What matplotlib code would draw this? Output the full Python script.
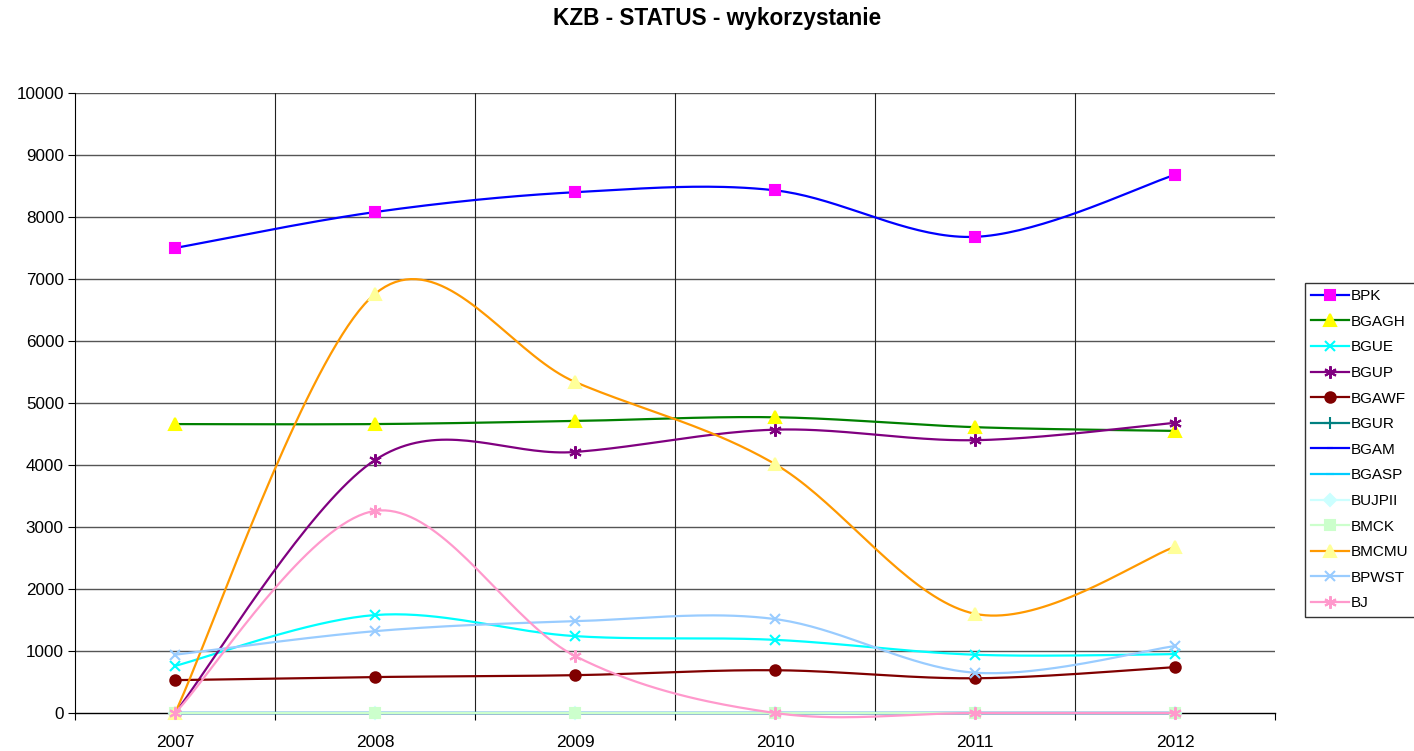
import numpy as np
import matplotlib
matplotlib.use("Agg")
import matplotlib.pyplot as plt
from matplotlib.ticker import FixedLocator, NullFormatter

plt.rcParams['font.family'] = ['Liberation Sans', 'DejaVu Sans']

years = ["2007", "2008", "2009", "2010", "2011", "2012"]
series_names = ["BPK", "BGAGH", "BGUE", "BGUP", "BGAWF", "BGUR", "BGAM",
                "BGASP", "BUJPII", "BMCK", "BMCMU", "BPWST", "BJ"]
BPK = [7500, 8080, 8400, 8430, 7680, 8680]
BGAGH = [4660, 4660, 4710, 4770, 4610, 4550]
BGUE = [760, 1580, 1240, 1180, 940, 950]
BGUP = [0, 4080, 4210, 4570, 4400, 4680]
BGAWF = [530, 580, 610, 690, 560, 740]
BGUR = [0, 0, 0, 0, 0, 0]
BGAM = [0, 0, 0, 0, 0, 0]
BGASP = [0, 0, 0, 0, 0, 0]
BUJPII = [0, 0, 0, 0, 0, 0]
BMCK = [0, 0, 0, 0, 0, 0]
BMCMU = [0, 6760, 5340, 4015, 1600, 2680]
BPWST = [940, 1320, 1480, 1515, 650, 1080]
BJ = [0, 3260, 920, 0, 0, 0]

values = [BPK, BGAGH, BGUE, BGUP, BGAWF, BGUR, BGAM, BGASP, BUJPII, BMCK, BMCMU, BPWST, BJ]

# (line color, marker, marker face, marker edge, marker size)
styles = [
    ("#0000FF", "s", "#FF00FF", "#FF00FF", 7.5),
    ("#008000", "^", "#FFFF00", "#FFFF00", 8),
    ("#00FFFF", "x", "#00FFFF", "#00FFFF", 7.5),
    ("#800080", (6, 2, 0), "#800080", "#800080", 9),
    ("#800000", "o", "#800000", "#800000", 7.5),
    ("#008080", "+", "#008080", "#008080", 9),
    ("#0000FF", "_", "#0000FF", "#0000FF", 5),
    ("#00CCFF", "_", "#00CCFF", "#00CCFF", 6),
    ("#CCFFFF", "D", "#CCFFFF", "#CCFFFF", 6.5),
    ("#CCFFCC", "s", "#CCFFCC", "#CCFFCC", 7.5),
    ("#FF9900", "^", "#FFFF99", "#FFFF99", 8),
    ("#99CCFF", "x", "#99CCFF", "#99CCFF", 7.5),
    ("#FF99CC", (6, 2, 0), "#FF99CC", "#FF99CC", 9),
]


def smooth(x, y, n=40):
    # Excel-style smoothed line (Catmull-Rom Bezier)
    x = np.asarray(x, float)
    y = np.asarray(y, float)
    P = np.column_stack([x, y])
    Pext = np.vstack([P[0], P, P[-1]])
    out = []
    t = np.linspace(0, 1, n)
    for i in range(len(P) - 1):
        p0, p1, p2, p3 = Pext[i], Pext[i + 1], Pext[i + 2], Pext[i + 3]
        c1 = p1 + (p2 - p0) / 6.0
        c2 = p2 - (p3 - p1) / 6.0
        seg = ((1 - t)[:, None] ** 3 * p1 + 3 * ((1 - t) ** 2 * t)[:, None] * c1
               + 3 * ((1 - t) * t ** 2)[:, None] * c2 + (t ** 3)[:, None] * p2)
        out.append(seg if i == 0 else seg[1:])
    s = np.vstack(out)
    return s[:, 0], s[:, 1]


fig = plt.figure(figsize=(14.14, 7.51), dpi=100)
ax = fig.add_axes([75 / 1414, 1 - 713 / 751, 1200 / 1414, 620 / 751])

xs = np.arange(len(years))
handles = []
for i in range(len(series_names)):
    lc, mk, mf, me, ms = styles[i]
    sx, sy = smooth(xs, values[i])
    ax.plot(sx, sy, color=lc, lw=1.6, zorder=3 + i, solid_capstyle='round', clip_on=False)
    ax.plot(xs, values[i], ls='none', marker=mk, color=me, markerfacecolor=mf,
            markeredgecolor=me, markersize=ms, markeredgewidth=1.5, zorder=3 + i,
            clip_on=False)
    h, = ax.plot([], [], color=lc, lw=1.6, marker=mk, markerfacecolor=mf,
                 markeredgecolor=me, markersize=ms, markeredgewidth=1.5)
    handles.append(h)

ax.set_xlim(-0.5, 5.5)
ax.set_ylim(0, 10000)
ax.set_yticks(np.arange(0, 10001, 1000))
ax.xaxis.set_major_locator(FixedLocator(np.arange(-0.5, 5.6, 1.0)))
ax.xaxis.set_major_formatter(NullFormatter())
ax.xaxis.set_minor_locator(FixedLocator(xs))
ax.set_xticklabels(years, minor=True)
ax.tick_params(axis='x', which='minor', length=0, pad=16, labelsize=12.5)
ax.tick_params(axis='x', which='major', length=5, direction='out', color='black')
ax.tick_params(axis='y', length=5, direction='out', labelsize=12.3, pad=3)

for yv in np.arange(1000, 10001, 1000):
    ax.axhline(yv, color='#555555', lw=1.0, zorder=1)
for xv in np.arange(0.5, 5.0, 1.0):
    ax.axvline(xv, color='#222222', lw=0.8, zorder=1)

for s in ['top', 'right']:
    ax.spines[s].set_visible(False)
ax.spines['left'].set_color('black')
ax.spines['bottom'].set_color('black')
ax.spines['bottom'].set_linewidth(1.0)

fig.text(717 / 1414, 1 - 19 / 751, "KZB - STATUS - wykorzystanie", ha='center', va='center',
         fontsize=16.3, fontweight='bold')

leg = fig.legend(handles, series_names, loc='upper left',
                 bbox_to_anchor=(1305 / 1414, 1 - 283 / 751), fontsize=11,
                 frameon=True, fancybox=False, edgecolor='black', handlelength=2.5,
                 handletextpad=0.12, labelspacing=0.76, borderpad=0.4, borderaxespad=0)
leg.get_frame().set_linewidth(1.0)

fig.savefig("out.png", dpi=100)
